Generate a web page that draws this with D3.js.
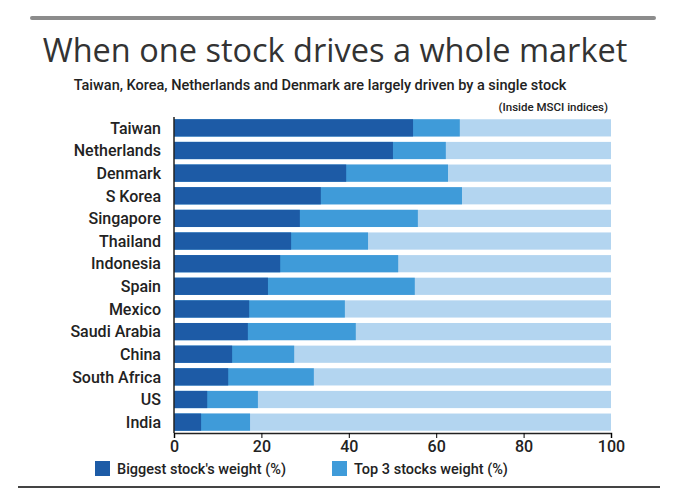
<!DOCTYPE html>
<html><head><meta charset="utf-8">
<script src="https://cdn.jsdelivr.net/npm/d3@7"></script>
<style>body{margin:0;background:#fff;font-family:Roboto,"Noto Sans",sans-serif}</style>
</head><body>
<svg id="chart" width="680" height="496"></svg>
<script>
// values
var countries = ["Taiwan","Netherlands","Denmark","S Korea","Singapore","Thailand","Indonesia","Spain","Mexico","Saudi Arabia","China","South Africa","US","India"];
var biggest = [54.7,50.1,39.4,33.6,28.8,26.8,24.3,21.5,17.2,16.9,13.3,12.4,7.6,6.2];
var top3 = [65.4,62.2,62.7,65.9,55.8,44.4,51.3,55.1,39.1,41.6,27.5,32.0,19.2,17.4];
var ticks = [0,20,40,60,80,100];

var svg = d3.select("#chart");
var x = d3.scaleLinear().domain([0,100]).range([174,611]);
var y = d3.scaleBand().domain(countries).range([117,433]).paddingInner(0.24).paddingOuter(0.1);

svg.append("rect").attr("x",30).attr("y",16).attr("width",626).attr("height",4).attr("fill","#8c8c8c").attr("rx",2);
svg.append("rect").attr("x",18).attr("y",486).attr("width",642).attr("height",2).attr("fill","#444");

svg.append("text").attr("x",335).attr("y",62).attr("text-anchor","middle")
  .style("font-family","'Open Sans',sans-serif").style("font-size","32.5px").attr("fill","#333")
  .text("When one stock drives a whole market");
svg.append("text").attr("x",320).attr("y",90).attr("text-anchor","middle")
  .style("font-size","14.5px").style("font-weight","500").attr("fill","#222")
  .text("Taiwan, Korea, Netherlands and Denmark are largely driven by a single stock");
svg.append("text").attr("x",608).attr("y",111).attr("text-anchor","end")
  .style("font-size","11.5px").style("font-weight","500").attr("fill","#222")
  .text("(Inside MSCI indices)");

var rows = svg.append("g").selectAll("g").data(countries).join("g");
rows.append("rect").attr("x",x(0)).attr("y",d=>y(d)).attr("height",y.bandwidth())
  .attr("width",x(100)-x(0)).attr("fill","#b3d5f0");
rows.append("rect").attr("x",x(0)).attr("y",d=>y(d)).attr("height",y.bandwidth())
  .attr("width",(d,i)=>x(top3[i])-x(0)).attr("fill","#3f9bd9");
rows.append("rect").attr("x",x(0)).attr("y",d=>y(d)).attr("height",y.bandwidth())
  .attr("width",(d,i)=>x(biggest[i])-x(0)).attr("fill","#1d5ba6");
rows.append("text").attr("x",161).attr("y",d=>y(d)+y.bandwidth()/2).attr("dy","0.36em")
  .attr("text-anchor","end").style("font-size","16px").style("font-weight","500").attr("fill","#222")
  .text(d=>d);

svg.append("line").attr("x1",x(0)).attr("x2",x(0)).attr("y1",117).attr("y2",433).attr("stroke","#222").attr("stroke-width",1.5);
var ax = svg.append("g").attr("transform","translate(0,433)")
  .call(d3.axisBottom(x).tickValues(ticks).tickSize(5).tickPadding(3));
ax.select(".domain").attr("stroke","#222").attr("stroke-width",1.5);
ax.selectAll("text").style("font-size","16px").style("font-weight","500").attr("fill","#222")
  .style("font-family","Roboto,sans-serif");

var legend = [["Biggest stock's weight (%)","#1d5ba6",95],["Top 3 stocks weight (%)","#3f9bd9",332]];
var lg = svg.selectAll(".lg").data(legend).join("g");
lg.append("rect").attr("x",d=>d[2]).attr("y",461).attr("width",15).attr("height",15).attr("fill",d=>d[1]);
lg.append("text").attr("x",d=>d[2]+22).attr("y",474).style("font-size","14.5px").style("font-weight","500")
  .attr("fill","#222").text(d=>d[0]);
</script>
</body></html>
